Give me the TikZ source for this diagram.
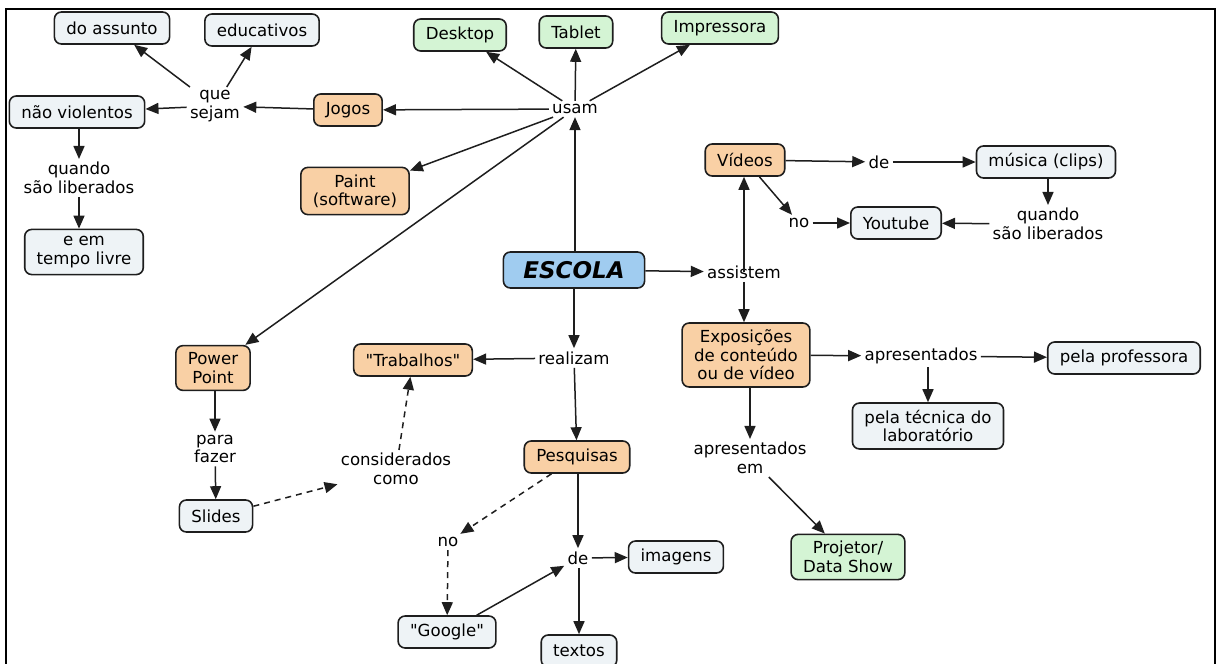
\documentclass[tikz,border=0pt]{standalone}
\usepackage{fontspec}
\setmainfont{DejaVu Sans}[Ligatures=TeXOff]
\usetikzlibrary{arrows.meta}
\definecolor{orangefill}{RGB}{249,208,165}
\definecolor{greenfill}{RGB}{212,244,212}
\definecolor{greyfill}{RGB}{238,243,246}
\definecolor{bluefill}{RGB}{160,204,240}
\definecolor{edge}{RGB}{30,30,30}
\begin{document}
\begin{tikzpicture}[x=0.5pt,y=-0.5pt,
  font=\fontsize{8.3}{9.2}\selectfont,
  box/.style={draw=edge, line width=0.8pt, rounded corners=3.5pt, inner xsep=6pt,
    inner ysep=3.5pt, minimum height=16pt, align=center, text=black},
  orangebox/.style={box, fill=orangefill},
  greenbox/.style={box, fill=greenfill},
  greybox/.style={box, fill=greyfill},
  bluebox/.style={box, fill=bluefill, font=\fontsize{11.5}{12}\selectfont\bfseries\itshape,
    inner xsep=10pt, minimum height=18pt},
  lbl/.style={inner sep=1.5pt, align=center},
  arr/.style={draw=edge, line width=0.75pt, -{Triangle[length=6.5pt,width=5.5pt]}},
  darr/.style={arr, dash pattern=on 3pt off 2.5pt},
  frame/.style={line width=1.2pt, draw=black}
]
\useasboundingbox (0,0) rectangle (1217,664);

% outer frame (open at the bottom)
\draw[frame] (6,664) -- (6,9) -- (1215,9) -- (1215,664);
\draw[line width=0.6pt] (6,664) -- (6,9);

% concept boxes
\node[bluebox]   (escola) at (574,270) {ESCOLA};
\node[greenbox]  (desk)   at (460,35)  {Desktop};
\node[greenbox]  (tab)    at (576,32)  {Tablet};
\node[greenbox]  (imp)    at (720,28)  {Impressora};
\node[orangebox] (jogos)  at (348,110) {Jogos};
\node[orangebox] (paint)  at (355,191) {Paint\\(software)};
\node[orangebox] (pp)     at (213,368) {Power\\Point};
\node[greybox]   (assun)  at (112,28)  {do assunto};
\node[greybox]   (educ)   at (262,30)  {educativos};
\node[greybox]   (nviol)  at (77,112)  {não violentos};
\node[greybox]   (livre)  at (84,252)  {e em\\tempo livre};
\node[orangebox] (vid)    at (745,160) {Vídeos};
\node[greybox]   (mus)    at (1046,162) {música (clips)};
\node[greybox]   (yt)     at (896,223) {Youtube};
\node[orangebox] (expo)   at (746,355) {Exposições\\de conteúdo\\ou de vídeo};
\node[greybox]   (prof)   at (1124,358) {pela professora};
\node[greybox]   (tec)    at (928,426) {pela técnica do\\laboratório};
\node[greenbox]  (proj)   at (848,557) {Projetor/\\Data Show};
\node[orangebox] (trab)   at (413,360) {"Trabalhos"};
\node[orangebox] (pesq)   at (577,457) {Pesquisas};
\node[greybox]   (slides) at (216,516) {Slides};
\node[greybox]   (google) at (447,632) {"Google"};
\node[greybox]   (img)    at (676,557) {imagens};
\node[greybox]   (txt)    at (579,651) {textos};

% linking phrases
\node[lbl] (usam)  at (575,109) {usam};
\node[lbl] (que)   at (215,106) {que\\sejam};
\node[lbl] (qd1)   at (79,178)  {quando\\são liberados};
\node[lbl] (de1)   at (879,162) {de};
\node[lbl] (no1)   at (799,223) {no};
\node[lbl] (qd2)   at (1048,224) {quando\\são liberados};
\node[lbl] (assi)  at (744,272) {assistem};
\node[lbl] (apr)   at (921,356) {apresentados};
\node[lbl] (apem)  at (750,458) {apresentados\\em};
\node[lbl] (real)  at (574,358) {realizam};
\node[lbl] (de2)   at (578,558) {de};
\node[lbl] (no2)   at (448,542) {no};
\node[lbl] (para)  at (215,449) {para\\fazer};
\node[lbl] (cons)  at (396,469) {considerados\\como};

% connectors around "usam"
\draw[arr] (escola.north -| usam) -- (usam);
\draw[arr] (usam) -- (desk);
\draw[arr] (usam) -- (tab);
\draw[arr] (usam) -- (imp);
\draw[arr] (usam) -- (jogos);
\draw[arr] (usam) -- (paint);
\draw[arr] (usam) -- (pp);

% games branch
\draw[arr] (jogos) -- (que);
\draw[arr] (que) -- (assun);
\draw[arr] (que) -- (educ);
\draw[arr] (que) -- (nviol);
\draw[arr] (nviol.south -| qd1) -- (qd1);
\draw[arr] (qd1.south) -- (qd1.south |- livre.north);

% videos and presentations
\draw[arr] (escola) -- (assi);
\draw[arr] (assi.center) -- (assi.center |- vid.south);
\draw[arr] (assi.south) -- (assi.south |- expo.north);
\draw[arr] (vid) -- (de1);
\draw[arr] (de1) -- (mus);
\draw[arr] (vid) -- (no1);
\draw[arr] (no1) -- (yt);
\draw[arr] (mus.south -| qd2) -- (qd2);
\draw[arr] (qd2) -- (yt);
\draw[arr] (expo) -- (apr);
\draw[arr] (apr) -- (prof);
\draw[arr] (apr.south -| tec) -- (tec);
\draw[arr] (expo.south -| apem) -- (apem);
\draw[arr] (apem) -- (proj);

% work and research
\draw[arr] (escola) -- (real);
\draw[arr] (real) -- (trab);
\draw[arr] (real) -- (pesq);
\draw[arr] (pesq.south -| de2) -- (de2);
\draw[arr] (de2) -- (img);
\draw[arr] (de2.south -| txt) -- (txt);
\draw[darr] (pesq) -- (no2);
\draw[darr] (no2) -- (google);
\draw[arr] (google) -- (de2);

% PowerPoint branch
\draw[arr] (pp.south -| para) -- (para);
\draw[arr] (para) -- (slides);
\draw[darr] (slides) -- (cons);
\draw[darr] (cons) -- (trab);
\end{tikzpicture}
\end{document}
